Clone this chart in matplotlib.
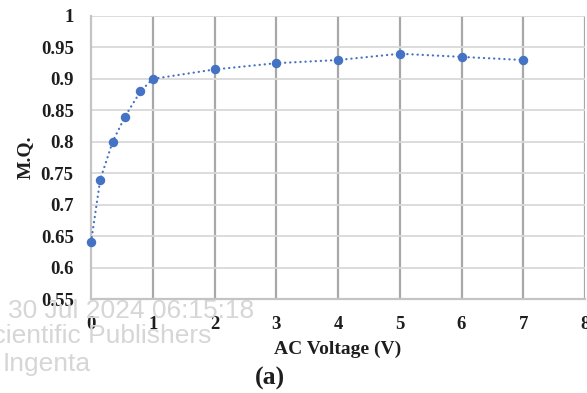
import matplotlib
matplotlib.use("Agg")
import matplotlib.pyplot as plt

# AC voltage (V) and measured M.Q.
voltage = [0, 0.15, 0.35, 0.55, 0.8, 1, 2, 3, 4, 5, 6, 7]
mq = [0.64, 0.74, 0.80, 0.84, 0.88, 0.90, 0.915, 0.925, 0.93, 0.94, 0.935, 0.93]

x_ticks = [0, 1, 2, 3, 4, 5, 6, 7, 8]
y_ticks = [0.55, 0.6, 0.65, 0.7, 0.75, 0.8, 0.85, 0.9, 0.95, 1]
y_tick_labels = ["0.55", "0.6", "0.65", "0.7", "0.75", "0.8", "0.85", "0.9", "0.95", "1"]

serif = ["Liberation Serif", "DejaVu Serif"]
sans = ["Liberation Sans", "DejaVu Sans"]

fig = plt.figure(figsize=(5.87, 3.93), dpi=100)
ax = fig.add_axes([91 / 587, 1 - 299 / 393, 494 / 587, 283 / 393])

# faint watermark text behind the chart
wm = dict(family=sans, fontsize=19, color="#d6d6d6", zorder=0)
fig.text(8 / 587, 1 - 318 / 393, "30 Jul 2024 06:15:18", ha="left", va="baseline", **wm)
fig.text(211 / 587, 1 - 343 / 393, "Scientific Publishers", ha="right", va="baseline", **wm)
fig.text(3 / 587, 1 - 371 / 393, "Ingenta", ha="left", va="baseline", **wm)
ax.patch.set_alpha(0)

ax.plot(voltage, mq, color="#4472C4", lw=1.6, linestyle=(0, (0.1, 2.2)),
        dash_capstyle="round", marker="o", markersize=5.8, zorder=3, clip_on=False)

ax.set_xlim(0, 8)
ax.set_ylim(0.55, 1)
ax.set_xticks(x_ticks)
ax.set_yticks(y_ticks)
ax.set_yticklabels(y_tick_labels)

# gridlines: darker vertical, lighter horizontal
for xv in x_ticks[1:]:
    ax.axvline(xv, color="#a8a8a8", lw=1.6, zorder=1)
for yv in y_ticks[1:]:
    ax.axhline(yv, color="#d9d9d9", lw=1.3, zorder=1)

for side in ["top", "right"]:
    ax.spines[side].set_visible(False)
ax.spines["left"].set_color("#c4c4c4")
ax.spines["bottom"].set_color("#c4c4c4")
ax.spines["left"].set_linewidth(1.6)
ax.spines["bottom"].set_linewidth(1.6)

ax.tick_params(axis="both", length=0, labelsize=13.5)
ax.tick_params(axis="x", pad=12)
ax.tick_params(axis="y", pad=12.5)
for lab in ax.get_xticklabels() + ax.get_yticklabels():
    lab.set_fontfamily(serif)
    lab.set_fontweight("bold")
    lab.set_color("#1e1e1e")

ax.set_xlabel("AC Voltage (V)", family=serif, fontweight="bold", fontsize=14,
              color="#1e1e1e", labelpad=6)
ax.set_ylabel("M.Q.", family=serif, fontweight="bold", fontsize=14,
              color="#1e1e1e", labelpad=5)

fig.text(270 / 587, 1 - 378 / 393, "(a)", family=serif, fontweight="bold",
         fontsize=18.5, color="#1e1e1e", ha="center", va="center")

fig.savefig("out.png", dpi=100)
